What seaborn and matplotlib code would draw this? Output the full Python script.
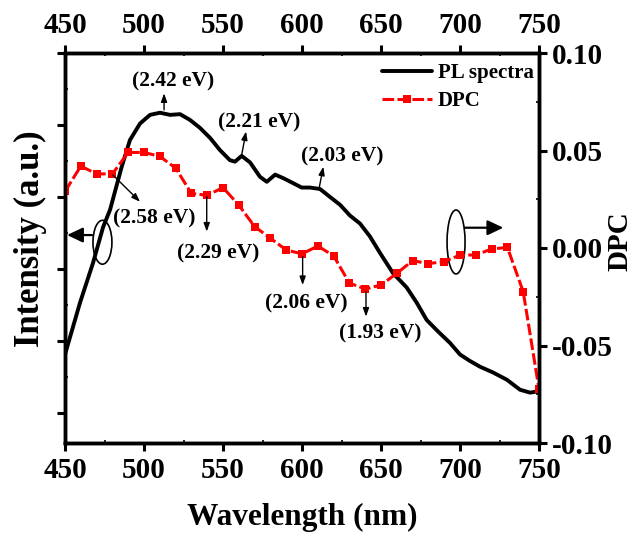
import matplotlib
matplotlib.use("Agg")
import matplotlib.pyplot as plt
from matplotlib.patches import Ellipse
from matplotlib.ticker import MultipleLocator, FormatStrFormatter
import seaborn as sns

# Photoluminescence spectrum (left axis, arbitrary units)
pl_wavelength = [450, 459.5, 467.7, 474.1, 478.5, 485.9, 491.1, 497.5, 503.8, 510.1,
                 516.5, 522.8, 529.1, 535.4, 541.8, 548.1, 554.4, 557.6, 561.8, 567.1,
                 573.4, 577.7, 583.0, 588.2, 594.5, 599.8, 605.1, 611.4, 617.7, 624.1,
                 630.4, 636.7, 643.0, 649.4, 657.6, 666.3, 672.6, 678.9, 686.1, 693.7,
                 700.0, 706.3, 712.7, 720.9, 729.6, 738.0, 744.4, 750.0]
pl_intensity = [0.81, 1.53, 2.08, 2.58, 2.82, 3.42, 3.79, 4.02, 4.14, 4.17,
                4.14, 4.15, 4.07, 3.96, 3.82, 3.65, 3.51, 3.49, 3.57, 3.48,
                3.28, 3.21, 3.31, 3.26, 3.19, 3.13, 3.13, 3.11, 3.00, 2.89,
                2.74, 2.63, 2.45, 2.22, 1.94, 1.74, 1.53, 1.29, 1.13, 0.97,
                0.81, 0.72, 0.64, 0.56, 0.46, 0.32, 0.28, 0.30]

# DPC spectrum (right axis)
dpc_wavelength = [450, 460, 470, 480, 490, 500, 510, 520, 530, 540, 550,
                  560, 570, 580, 590, 600, 610, 620, 630, 640, 650,
                  660, 670, 680, 690, 700, 710, 720, 730, 740, 750]
dpc_values = [0.029, 0.042, 0.038, 0.038, 0.049, 0.049, 0.047, 0.041, 0.028, 0.027, 0.031,
              0.022, 0.011, 0.005, -0.001, -0.003, 0.001, -0.004, -0.018, -0.021, -0.019,
              -0.013, -0.0065, -0.008, -0.007, -0.0036, -0.0036, -0.0005, 0.0003, -0.0224, -0.0723]

x_ticks = [450, 500, 550, 600, 650, 700, 750]
dpc_ticks = [-0.10, -0.05, 0.00, 0.05, 0.10]

sns.set_style("ticks")
plt.rcParams["font.family"] = ["Liberation Serif", "DejaVu Serif"]
plt.rcParams["font.weight"] = "bold"
plt.rcParams["axes.labelweight"] = "bold"
plt.rcParams["axes.unicode_minus"] = False
for key in ("text.color", "axes.labelcolor", "xtick.color", "ytick.color", "axes.edgecolor"):
    plt.rcParams[key] = "black"

fig = plt.figure(figsize=(6.34, 5.37), dpi=100)
ax = fig.add_axes([65 / 634, 94 / 537, 474 / 634, 390 / 537])
ax2 = ax.twinx()

sns.lineplot(x=pl_wavelength, y=pl_intensity, ax=ax, color="black", lw=2.8,
             label="PL spectra", legend=False)
sns.lineplot(x=dpc_wavelength, y=dpc_values, ax=ax2, color="#ff0000", lw=2.2,
             marker="s", markersize=6, markeredgewidth=0, markeredgecolor="#ff0000",
             linestyle=(0, (3.8, 1.1)), label="DPC", legend=False)

ax.set_xlim(450, 750)
ax.set_ylim(-0.42, 5.0)
ax2.set_ylim(-0.10, 0.10)

ax.set_xticks(x_ticks)
ax.xaxis.set_minor_locator(MultipleLocator(25))
ax.yaxis.set_major_locator(MultipleLocator(1))
ax.yaxis.set_minor_locator(MultipleLocator(0.5))
ax2.set_yticks(dpc_ticks)
ax2.yaxis.set_minor_locator(MultipleLocator(0.025))
ax2.yaxis.set_major_formatter(FormatStrFormatter("%.2f"))

for a in (ax, ax2):
    for sp in a.spines.values():
        sp.set_linewidth(2.5)
        sp.set_color("black")

ax.tick_params(axis="x", which="major", direction="out", length=6, width=2.2,
               top=True, labeltop=True, labelsize=21, pad=4)
ax.tick_params(axis="x", which="minor", direction="in", length=2.5, width=1.2, top=True)
ax.tick_params(axis="y", which="major", direction="out", length=6, width=2.2,
               labelleft=False)
ax.tick_params(axis="y", which="minor", direction="in", length=2.5, width=1.2)
ax2.tick_params(axis="y", which="major", direction="out", length=6, width=2.2,
                labelsize=21, pad=3)
ax2.tick_params(axis="y", which="minor", direction="in", length=2.5, width=1.2)

ax.set_xlabel("Wavelength (nm)", fontsize=22.5, labelpad=14)
ax.set_ylabel("Intensity (a.u.)", fontsize=25)
ax.yaxis.set_label_coords(-0.039, 0.525)
ax2.set_ylabel("DPC", fontsize=21, rotation=90)
ax2.yaxis.set_label_coords(1.143, 0.518)

# Peak markers on the PL curve
arrow_small = dict(arrowstyle="-|>,head_length=0.5,head_width=0.18", color="black",
                   lw=1.0, shrinkA=0, shrinkB=0, mutation_scale=10)
pl_marks = [((512.7, 4.21), (512.7, 4.44), (518.5, 4.61), "(2.42 eV)"),
            ((561.8, 3.58), (564.6, 3.91), (573.0, 4.04), "(2.21 eV)"),
            ((611.0, 3.14), (613.5, 3.42), (625.3, 3.56), "(2.03 eV)")]
for tail, head, txt_pos, txt in pl_marks:
    ax.annotate("", xy=head, xytext=tail, arrowprops=arrow_small)
    ax.text(*txt_pos, txt, ha="center", va="center", fontsize=15.5, fontweight="bold")

# Features on the DPC curve
dpc_marks = [((480.4, 0.0374), (497.5, 0.0237), (506.8, 0.0150), "(2.58 eV)"),
             ((539.7, 0.0263), (539.7, 0.0084), (546.8, -0.0030), "(2.29 eV)"),
             ((600.4, -0.0045), (600.4, -0.0190), (602.5, -0.0285), "(2.06 eV)"),
             ((640.5, -0.0224), (640.5, -0.0352), (649.4, -0.0440), "(1.93 eV)")]
for tail, head, txt_pos, txt in dpc_marks:
    ax2.annotate("", xy=head, xytext=tail, arrowprops=arrow_small)
    ax2.text(*txt_pos, txt, ha="center", va="center", fontsize=15.5, fontweight="bold")

# Axis indicators: circled curves with arrows to their axes
arrow_big = dict(arrowstyle="-|>,head_length=0.95,head_width=0.45", color="black",
                 lw=1.6, shrinkA=0, shrinkB=0, mutation_scale=10)
ax.add_patch(Ellipse((473.7, 2.37), 12.0, 0.61, fill=False, edgecolor="black", lw=1.2))
ax.annotate("", xy=(451.3, 2.47), xytext=(467.1, 2.47), arrowprops=arrow_big)
ax2.add_patch(Ellipse((697.5, 0.0031), 11.4, 0.0328, fill=False, edgecolor="black", lw=1.2))
ax2.annotate("", xy=(727.4, 0.0104), xytext=(703.2, 0.0104), arrowprops=arrow_big)

h1 = ax.get_lines()[0]
h2 = ax2.get_lines()[0]
ax2.legend([h1, h2], ["PL spectra", "DPC"], loc="upper right", bbox_to_anchor=(0.998, 0.985),
           frameon=False, fontsize=15, handlelength=2.4, handletextpad=0.3,
           labelspacing=0.4, borderaxespad=0.0, borderpad=0.2)

fig.savefig("out.png", dpi=100)
